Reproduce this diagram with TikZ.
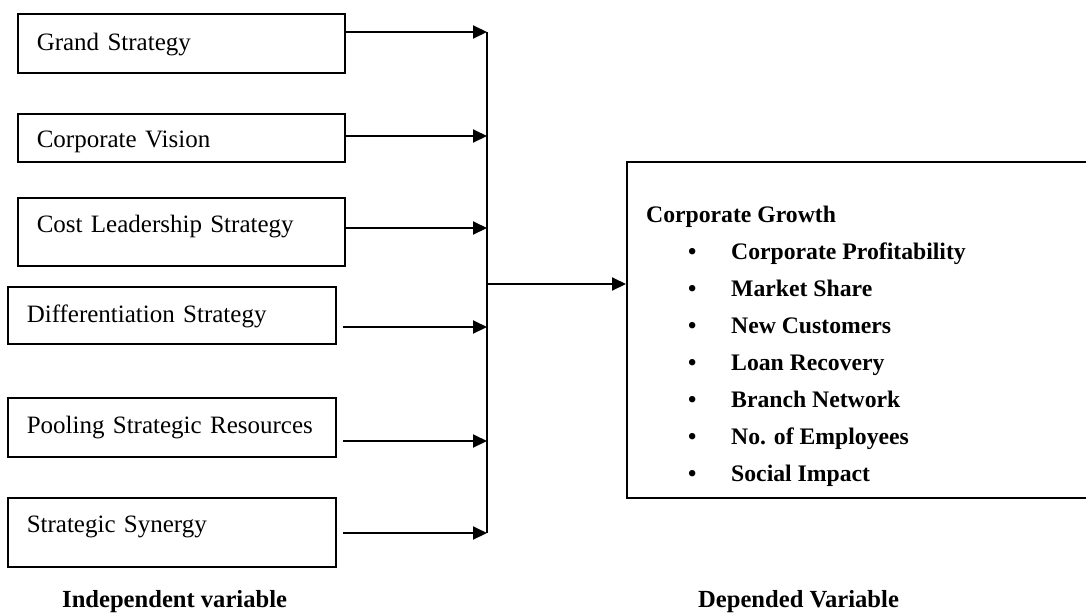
\documentclass[tikz,border=0pt]{standalone}
\usepackage{fontspec}
\setmainfont{Liberation Serif}
\usetikzlibrary{arrows.meta}
\begin{document}
\begin{tikzpicture}[x=1pt,y=-1pt,
  ivbox/.style={draw, line width=1.5pt, anchor=north west, inner xsep=19pt, inner ysep=0pt,
    align=left, font=\fontsize{25}{30}\selectfont},
  conn/.style={line width=2pt, -{Triangle[length=14pt,width=13pt]}},
  busline/.style={line width=1.8pt},
  dvbox/.style={draw, line width=1.5pt, anchor=north west, inner sep=0pt},
  lbl/.style={anchor=base west, font=\bfseries\fontsize{24.6}{30}\selectfont, inner sep=0pt}]
\useasboundingbox (0,0) rectangle (1086,614);
\clip (0,0) rectangle (1086,614);
\fill[white] (0,0) rectangle (1086,614);

% independent variable boxes
\node[ivbox, text width=289pt, text height=37pt, text depth=22pt] (b1) at (17,13) {Grand Strategy};
\node[ivbox, text width=289pt, text height=34pt, text depth=14pt] (b2) at (17,113) {Corporate Vision};
\node[ivbox, text width=289pt, text height=35pt, text depth=33pt] (b3) at (17,197) {Cost Leadership Strategy};
\node[ivbox, text width=290pt, text height=36pt, text depth=21pt] (b4) at (7,286) {Differentiation Strategy};
\node[ivbox, text width=290pt, text height=36pt, text depth=23pt] (b5) at (7,397) {Pooling Strategic Resources};
\node[ivbox, text width=290pt, text height=35pt, text depth=34pt] (b6) at (7,497) {Strategic Synergy};

% dependent variable box (right side runs off the picture)
\node[dvbox, minimum width=560pt, minimum height=336pt] (dv) at (626,161) {};
\node[anchor=base west, inner sep=0pt, font=\bfseries\fontsize{23.7}{37.1}\selectfont] (dvtext) at (646,222)
{\begin{tabular}[t]{@{}l@{}}
Corporate Growth\\
\hspace*{42pt}\makebox[43pt][l]{\textbullet}Corporate Profitability\\
\hspace*{42pt}\makebox[43pt][l]{\textbullet}Market Share\\
\hspace*{42pt}\makebox[43pt][l]{\textbullet}New Customers\\
\hspace*{42pt}\makebox[43pt][l]{\textbullet}Loan Recovery\\
\hspace*{42pt}\makebox[43pt][l]{\textbullet}Branch Network\\
\hspace*{42pt}\makebox[43pt][l]{\textbullet}No. of Employees\\
\hspace*{42pt}\makebox[43pt][l]{\textbullet}Social Impact
\end{tabular}};

% bus coordinates
\coordinate (t1) at (487,32);
\coordinate (t2) at (487,136);
\coordinate (t3) at (487,228);
\coordinate (t4) at (487,327);
\coordinate (t5) at (487,441);
\coordinate (t6) at (487,533);
\coordinate (s4) at (343,327);
\coordinate (s5) at (343,441);
\coordinate (s6) at (343,533);
\coordinate (bj) at (487,284);

\draw[busline] (t1) -- (t6);
\draw[conn] (b1.east |- t1) -- (t1);
\draw[conn] (b2.east |- t2) -- (t2);
\draw[conn] (b3.east |- t3) -- (t3);
\draw[conn] (s4) -- (t4);
\draw[conn] (s5) -- (t5);
\draw[conn] (s6) -- (t6);
\draw[conn] (bj) -- (bj -| dv.west);

% labels
\node[lbl] (iv) at (62,607) {Independent variable};
\node[lbl] (dvl) at (698,607) {Depended Variable};
\end{tikzpicture}
\end{document}
